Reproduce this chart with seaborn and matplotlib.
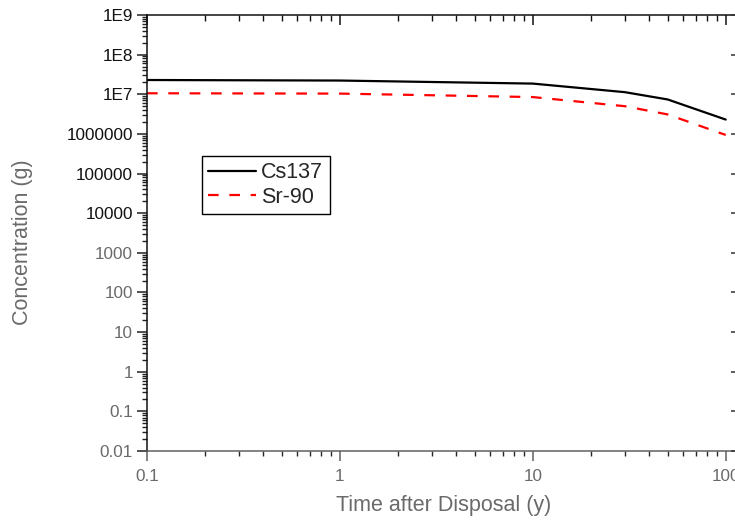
import matplotlib
matplotlib.use("Agg")
import matplotlib.pyplot as plt
import seaborn as sns
import pandas as pd
from matplotlib.ticker import FixedLocator, FixedFormatter, LogLocator, NullFormatter

# ---- data ----
time_y = [0.1, 1, 10, 30, 50, 100]
cs137 = [2.29e7, 2.22e7, 1.86e7, 1.13e7, 7.4e6, 2.3e6]
sr90 = [1.06e7, 1.04e7, 8.5e6, 5.0e6, 3.1e6, 9.4e5]
series_names = ["Cs137", "Sr-90"]
series_colors = ["#000000", "#ff0000"]

y_tick_values = [1e-2, 1e-1, 1e0, 1e1, 1e2, 1e3, 1e4, 1e5, 1e6, 1e7, 1e8, 1e9]
y_tick_labels = ["0.01", "0.1", "1", "10", "100", "1000", "10000", "100000",
                 "1000000", "1E7", "1E8", "1E9"]
x_tick_values = [0.1, 1, 10, 100]
x_tick_labels = ["0.1", "1", "10", "100"]
x_label = "Time after Disposal (y)"
y_label = "Concentration (g)"

df = pd.DataFrame({
    "t": time_y * 2,
    "c": cs137 + sr90,
    "nuclide": [series_names[0]] * len(time_y) + [series_names[1]] * len(time_y),
})

sns.set_style("ticks")
plt.rcParams["font.family"] = ["Liberation Sans", "DejaVu Sans"]

fig = plt.figure(figsize=(7.35, 5.26), dpi=100)
ax = fig.add_axes([147 / 735, (526 - 451) / 526, 594 / 735, 436 / 526])

sns.lineplot(data=df, x="t", y="c", hue="nuclide", style="nuclide",
             palette=dict(zip(series_names, series_colors)),
             dashes={series_names[0]: "", series_names[1]: (4.8, 4.8)},
             linewidth=1.6, ax=ax, legend=False)

ax.set_xscale("log")
ax.set_yscale("log")
ax.set_xlim(0.1, 120)
ax.set_ylim(1e-2, 1e9)

# ticks
ax.yaxis.set_major_locator(FixedLocator(y_tick_values))
ax.yaxis.set_major_formatter(FixedFormatter(y_tick_labels))
ax.yaxis.set_minor_locator(LogLocator(base=10, subs=range(2, 10), numticks=50))
ax.yaxis.set_minor_formatter(NullFormatter())
ax.xaxis.set_major_locator(FixedLocator(x_tick_values))
ax.xaxis.set_major_formatter(FixedFormatter(x_tick_labels))
ax.xaxis.set_minor_locator(LogLocator(base=10, subs=range(2, 10), numticks=50))
ax.xaxis.set_minor_formatter(NullFormatter())

ax.tick_params(which="major", direction="out", length=7, width=1.1, labelsize=12.3,
               pad=3)
ax.tick_params(which="minor", direction="out", length=3.5, width=1.0)
ax.tick_params(axis="x", pad=6)

for sp in ax.spines.values():
    sp.set_visible(True)
    sp.set_linewidth(1.1)
    sp.set_color("#111111")
ax.spines["bottom"].set_color("#606060")

ax.tick_params(axis="x", colors="#606060", labelcolor="#6a6a6a")
ax.tick_params(axis="y", which="both", colors="#222222")
for lab, val in zip(ax.get_yticklabels(), y_tick_values):
    lab.set_color("#111111" if val >= 1e4 else "#6a6a6a")

# top ticks (inward)
axt = ax.twiny()
axt.set_xscale("log")
axt.set_xlim(ax.get_xlim())
axt.xaxis.set_major_locator(FixedLocator(x_tick_values))
axt.xaxis.set_minor_locator(LogLocator(base=10, subs=range(2, 10), numticks=50))
axt.tick_params(which="major", direction="in", length=7, width=1.1, labeltop=False,
                colors="#111111")
axt.tick_params(which="minor", direction="in", length=4, width=1.0, colors="#111111")
for sp in axt.spines.values():
    sp.set_visible(False)

# right ticks (inward)
axr = ax.twinx()
axr.set_yscale("log")
axr.set_ylim(ax.get_ylim())
axr.yaxis.set_major_locator(FixedLocator(y_tick_values))
axr.yaxis.set_minor_locator(LogLocator(base=10, subs=range(2, 10), numticks=50))
axr.tick_params(which="major", direction="in", length=7, width=1.1, labelright=False,
                colors="#333333")
axr.tick_params(which="minor", direction="in", length=3.5, width=1.0, colors="#333333")
for sp in axr.spines.values():
    sp.set_visible(False)

ax.set_xlabel(x_label, fontsize=15.5, color="#6a6a6a")
ax.set_ylabel(y_label, fontsize=15.5, color="#6a6a6a")
ax.xaxis.set_label_coords(0.5, (451 - 495) / 436)
ax.yaxis.set_label_coords((33 - 147) / 594, (451 - 242) / 436)

handles = [
    plt.Line2D([], [], color=series_colors[0], lw=1.6),
    plt.Line2D([], [], color=series_colors[1], lw=1.6, dashes=(4.8, 4.8)),
]
leg = ax.legend(handles, series_names, loc="upper left",
                bbox_to_anchor=((202 - 147) / 594, (451 - 156) / 436),
                fontsize=15.5, frameon=True, fancybox=False, framealpha=1,
                edgecolor="#000000", handlelength=2.2, handletextpad=0.25,
                labelspacing=0.15, borderpad=0.3, borderaxespad=0)
leg.get_frame().set_linewidth(1.0)

fig.savefig("out.png", dpi=100)
